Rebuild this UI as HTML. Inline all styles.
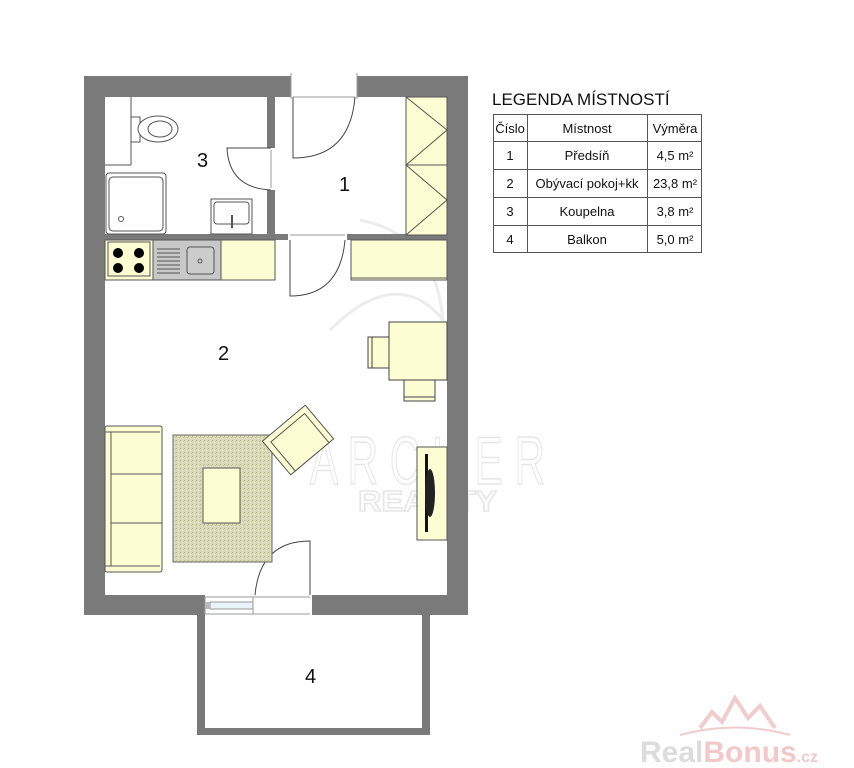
<!DOCTYPE html>
<html><head><meta charset="utf-8"><style>
html,body{margin:0;padding:0;background:#fff;}
svg{display:block;font-family:"Liberation Sans",sans-serif;}
</style></head><body>
<svg width="854" height="768" viewBox="0 0 854 768" xmlns="http://www.w3.org/2000/svg">
<defs>
<pattern id="rug" width="4" height="4" patternUnits="userSpaceOnUse">
<rect width="4" height="4" fill="#d9d9b8"/><rect x="0" y="0" width="1" height="1" fill="#b8b890"/><rect x="2" y="2" width="1" height="1" fill="#eeeed8"/><rect x="3" y="1" width="1" height="1" fill="#c4c4a0"/>
</pattern>
</defs>
<!-- watermark -->
<path d="M330 330 Q380 280 420 300 Q470 330 440 380 Q460 240 360 220" fill="none" stroke="#ececec" stroke-width="3"/>
<text x="310" y="484" font-size="68" fill="none" stroke="#e6e6e6" stroke-width="1.5" textLength="235" lengthAdjust="spacingAndGlyphs">A R C H E R</text>
<text x="358" y="511" font-size="29" fill="none" stroke="#e6e6e6" stroke-width="1.5" font-weight="bold" textLength="139" lengthAdjust="spacingAndGlyphs">REALITY</text>
<!-- outer walls -->
<path d="M84 76 H291 V97 H105 V595 H205 V615 H84 Z" fill="#7a7a7a"/>
<path d="M357 76 H468 V615 H312 V595 H447 V97 H357 Z" fill="#7a7a7a"/>
<!-- balcony wall -->
<path d="M197 615 H205 V728 H422 V615 H430 V735 H197 Z" fill="#7a7a7a"/>
<!-- inner walls -->
<rect x="267" y="97" width="8" height="51" fill="#7a7a7a"/>
<rect x="267" y="190" width="8" height="50" fill="#7a7a7a"/>
<rect x="105" y="234" width="183" height="6" fill="#7a7a7a"/>
<rect x="347" y="234" width="100" height="6" fill="#7a7a7a"/>
<!-- door frames -->
<g fill="none" stroke="#999" stroke-width="1">
<line x1="293" y1="97" x2="355" y2="97"/>
<line x1="291" y1="73" x2="291" y2="99"/><line x1="357" y1="73" x2="357" y2="99"/>
<line x1="271" y1="150" x2="271" y2="188"/>
<line x1="290" y1="235" x2="345" y2="235"/>
<line x1="253" y1="597" x2="310" y2="597"/><line x1="253" y1="614" x2="310" y2="614"/>
</g>
<!-- doors -->
<g fill="none" stroke="#444" stroke-width="1">
<path d="M293 97 V158 Q350 158 355 97"/>
<path d="M271 148 H227 Q229 188 271 190"/>
<path d="M290 240 V296 Q340 296 345 240"/>
<path d="M310 595 V541 Q260 541 255 595"/>
</g>
<!-- window -->
<rect x="205" y="597" width="48" height="17" fill="#fff" stroke="#999"/>
<rect x="210" y="602" width="43" height="7" fill="#e8f4f8" stroke="#999"/>
<rect x="205" y="602" width="5" height="7" fill="#bbb"/>
<!-- wardrobe -->
<rect x="406" y="97" width="41" height="138" fill="#fdfdd4" stroke="#555"/>
<line x1="406" y1="165" x2="447" y2="165" stroke="#555"/>
<path d="M406 97 L447 130 L406 165 L447 200 L406 235" fill="none" stroke="#555"/>
<!-- toilet -->
<line x1="131" y1="97" x2="131" y2="165" stroke="#555"/>
<line x1="105" y1="165" x2="131" y2="165" stroke="#555"/>
<rect x="131" y="117" width="9" height="25" fill="#fff" stroke="#555"/>
<ellipse cx="158" cy="129" rx="20" ry="13" fill="#fff" stroke="#555"/>
<ellipse cx="160" cy="129" rx="12" ry="8" fill="#fff" stroke="#555"/>
<!-- shower -->
<rect x="106" y="173" width="60" height="61" rx="3" fill="#fff" stroke="#555"/>
<rect x="109" y="177" width="54" height="54" rx="4" fill="#fff" stroke="#555"/>
<circle cx="121" cy="219" r="2.5" fill="none" stroke="#555"/>
<!-- basin -->
<rect x="211" y="199" width="41" height="35" fill="#fff" stroke="#555"/>
<rect x="214" y="202" width="35" height="22" rx="3" fill="#fff" stroke="#555"/>
<rect x="231" y="215" width="2" height="13" fill="#555"/>
<!-- kitchen counter -->
<rect x="105" y="240" width="170" height="40" fill="#fdfdd4" stroke="#555"/>
<rect x="108" y="242" width="42" height="34" fill="#fdfdd4" stroke="#555"/>
<circle cx="118" cy="253" r="5" fill="#000"/><circle cx="139" cy="253" r="5" fill="#000"/>
<circle cx="118" cy="268" r="5" fill="#000"/><circle cx="139" cy="268" r="5" fill="#000"/>
<rect x="153" y="240" width="68" height="40" fill="#c8c8c8" stroke="#555"/>
<g stroke="#555"><line x1="157" y1="249" x2="180" y2="249"/><line x1="157" y1="253" x2="180" y2="253"/><line x1="157" y1="257" x2="180" y2="257"/><line x1="157" y1="261" x2="180" y2="261"/><line x1="157" y1="265" x2="180" y2="265"/><line x1="157" y1="269" x2="180" y2="269"/><line x1="157" y1="273" x2="180" y2="273"/></g>
<rect x="187" y="247" width="27" height="27" rx="3" fill="#ccc" stroke="#555"/>
<circle cx="200" cy="261" r="2" fill="none" stroke="#555"/>
<rect x="351" y="240" width="96" height="40" fill="#fdfdd4" stroke="#555"/>
<line x1="351" y1="278" x2="447" y2="278" stroke="#555"/>
<!-- dining -->
<rect x="368" y="337" width="21" height="31" fill="#fdfdd4" stroke="#444"/>
<line x1="372" y1="337" x2="372" y2="368" stroke="#444"/>
<rect x="404" y="380" width="31" height="21" fill="#fdfdd4" stroke="#444"/>
<line x1="404" y1="397" x2="435" y2="397" stroke="#444"/>
<rect x="389" y="322" width="58" height="58" fill="#fdfdd4" stroke="#444"/>
<!-- sofa -->
<rect x="105" y="426" width="57" height="146" rx="2" fill="#fdfdd4" stroke="#555"/>
<line x1="111" y1="432" x2="111" y2="566" stroke="#555"/>
<line x1="111" y1="474" x2="162" y2="474" stroke="#555"/>
<line x1="111" y1="523" x2="162" y2="523" stroke="#555"/>
<line x1="105" y1="432" x2="160" y2="432" stroke="#555"/>
<line x1="105" y1="566" x2="160" y2="566" stroke="#555"/>
<!-- rug -->
<rect x="173" y="435" width="99" height="127" fill="url(#rug)" stroke="#666"/>
<rect x="203" y="468" width="37" height="55" fill="#fdfdd4" stroke="#555"/>
<!-- armchair -->
<g transform="translate(298,440) rotate(-40)">
<rect x="-28" y="-22" width="56" height="44" fill="#fdfdd4" stroke="#555"/>
<rect x="-22" y="-16" width="44" height="38" fill="#fdfdd4" stroke="#555"/>
</g>
<!-- TV -->
<rect x="417" y="447" width="30" height="93" fill="#fdfdd4" stroke="#555"/>
<rect x="425" y="454" width="3" height="78" fill="#111"/>
<ellipse cx="430" cy="493" rx="5" ry="24" fill="#222"/>
<!-- room labels -->
<g font-size="20" fill="#111">
<text x="197" y="167">3</text><text x="339" y="191">1</text>
<text x="218" y="360">2</text><text x="305" y="683">4</text>
</g>
<!-- legend -->
<text x="492" y="105" font-size="17" fill="#111">LEGENDA MÍSTNOSTÍ</text>
<g fill="none" stroke="#555" stroke-width="1">
<rect x="493.5" y="114.5" width="208" height="138"/>
<line x1="493" y1="141.5" x2="702" y2="141.5"/>
<line x1="493" y1="169.5" x2="702" y2="169.5"/>
<line x1="493" y1="197.5" x2="702" y2="197.5"/>
<line x1="493" y1="225.5" x2="702" y2="225.5"/>
<line x1="527.5" y1="114" x2="527.5" y2="253"/>
<line x1="647.5" y1="114" x2="647.5" y2="253"/>
</g>
<g font-size="13" fill="#111" text-anchor="middle">
<text x="510" y="133">Číslo</text><text x="587" y="133">Místnost</text><text x="675" y="133">Výměra</text>
<text x="510" y="160">1</text><text x="587" y="160">Předsíň</text><text x="675" y="160">4,5 m²</text>
<text x="510" y="188">2</text><text x="587" y="188">Obývací pokoj+kk</text><text x="675" y="188">23,8 m²</text>
<text x="510" y="216">3</text><text x="587" y="216">Koupelna</text><text x="675" y="216">3,8 m²</text>
<text x="510" y="244">4</text><text x="587" y="244">Balkon</text><text x="675" y="244">5,0 m²</text>
</g>
<!-- RealBonus logo -->
<path d="M700 728 L712 712 L722 722 L735 698 L748 718 L760 706 L775 728" fill="none" stroke="#f0cccc" stroke-width="4"/>
<path d="M680 735 Q735 720 790 735" fill="none" stroke="#f0cccc" stroke-width="2"/>
<text x="640" y="762" font-size="30" font-weight="bold" fill="#dcdcdc">Real<tspan fill="#f2c8c8">Bonus</tspan><tspan font-size="16" fill="#f2c8c8">.cz</tspan></text>
</svg>
</body></html>
